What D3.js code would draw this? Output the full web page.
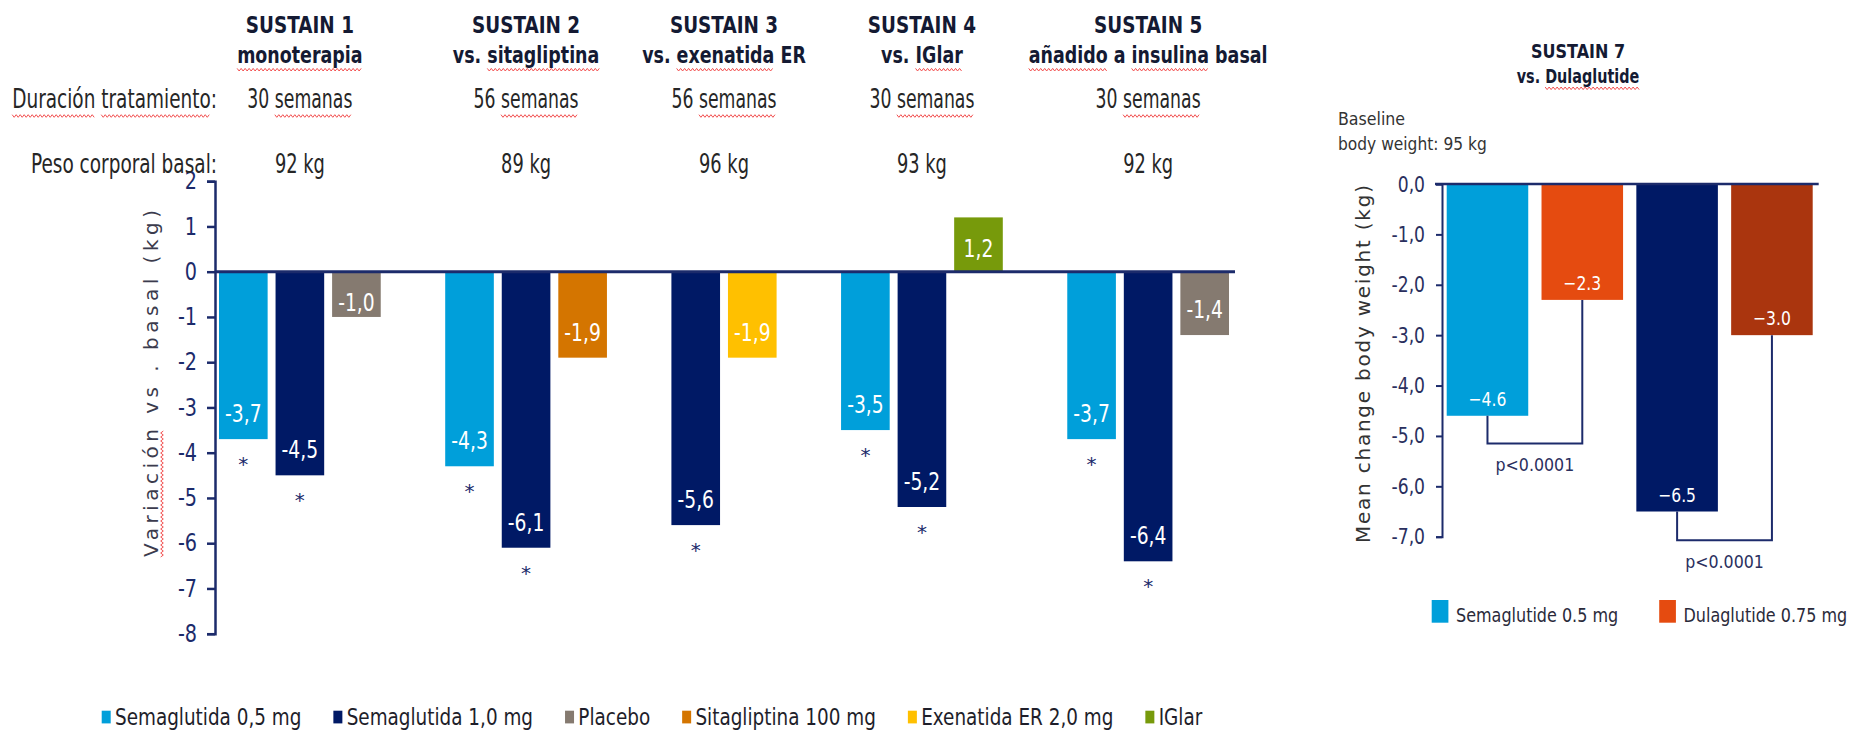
<!DOCTYPE html>
<meta charset="utf-8">
<style>
  body { margin: 0; background: #fff; }
  svg text { font-family: 'DejaVu Sans', Verdana, sans-serif; }
</style>
<script src="https://d3js.org/d3.v7.min.js"></script>
<div id="chart"></div>
<script>
// ---- SUSTAIN 1-5 data ----
var studies = ["SUSTAIN 1", "SUSTAIN 2", "SUSTAIN 3", "SUSTAIN 4", "SUSTAIN 5"];
var subtitles = ["monoterapia", "vs. sitagliptina", "vs. exenatida ER", "vs. IGlar", "añadido a insulina basal"];
var duration = ["30 semanas", "56 semanas", "56 semanas", "30 semanas", "30 semanas"];
var baseWeight = ["92 kg", "89 kg", "96 kg", "93 kg", "92 kg"];
var sema05 = [-3.7, -4.3, null, -3.5, -3.7];
var sema10 = [-4.5, -6.1, -5.6, -5.2, -6.4];
var comparator = [-1.0, -1.9, -1.9, 1.2, -1.4];
var comparatorName = ["Placebo", "Sitagliptina 100 mg", "Exenatida ER 2,0 mg", "IGlar", "Placebo"];
var treatments = ["Semaglutida 0,5 mg", "Semaglutida 1,0 mg", "Placebo", "Sitagliptina 100 mg", "Exenatida ER 2,0 mg", "IGlar"];
var treatmentColors = ["#009fda", "#001965", "#857a70", "#d47500", "#ffc000", "#779a0b"];
var leftTicks = [2, 1, 0, -1, -2, -3, -4, -5, -6, -7, -8];

// ---- SUSTAIN 7 data ----
var s7Arms = ["Semaglutide 0.5 mg", "Dulaglutide 0.75 mg", "Semaglutide 1.0 mg", "Dulaglutide 1.5 mg"];
var s7Values = [-4.6, -2.3, -6.5, -3.0];
var s7Colors = ["#009fda", "#e54b10", "#001965", "#aa350e"];
var s7Legend = ["Semaglutide 0.5 mg", "Dulaglutide 0.75 mg"];
var s7Pairs = [[0, 1], [2, 3]];
var s7PairLevel = [-5.15, -7.07];
var s7PValue = ["p<0.0001", "p<0.0001"];
var rightTicks = [0, -1, -2, -3, -4, -5, -6, -7];

var NAVY = "#1c2b6b", INK = "#141a33", GREY = "#262626";

var svg = d3.select("#chart").append("svg")
    .attr("width", 1849)
    .attr("height", 730);

// red spell-check squiggle
function wavy(parent, x0, x1, y) {
  var pts = [], k = 0;
  for (var x = x0; x <= x1; x += 2, k++) pts.push([x, y + (k % 2 ? 1.3 : -1.3)]);
  parent.append("path").attr("d", d3.line()(pts))
    .attr("fill", "none").attr("stroke", "#f25050").attr("stroke-width", 1);
}

// text squeezed horizontally (the source image is narrow)
function stext(parent, x, y, str, o) {
  o = o || {};
  var sx = o.sx || 1;
  var g = parent.append("g")
    .attr("transform", "translate(" + x + "," + y + ") scale(" + sx + ",1)");
  var t = g.append("text")
    .attr("text-anchor", o.anchor || "start")
    .style("font-size", (o.size || 20) + "px")
    .style("font-weight", o.weight || "normal")
    .attr("fill", o.fill || GREY)
    .text(str);
  (o.wavy || []).forEach(function (w) {
    var i = str.indexOf(w), n = t.node();
    var a = n.getStartPositionOfChar(i).x, b = n.getEndPositionOfChar(i + w.length - 1).x;
    wavy(parent, x + a * sx, x + b * sx, y + (o.wy || 6));
  });
  return t;
}

// ================= LEFT CHART =================
var slots = [];
studies.forEach(function (s, gi) {
  if (gi > 0) slots.push({ key: "gap" + gi, gap: true });
  if (sema05[gi] != null) slots.push({ key: s + "a", g: gi, v: sema05[gi], t: 0, star: true });
  slots.push({ key: s + "b", g: gi, v: sema10[gi], t: 1, star: true });
  slots.push({ key: s + "c", g: gi, v: comparator[gi], t: treatments.indexOf(comparatorName[gi]) });
});
var bars = slots.filter(function (d) { return !d.gap; });

var xL = d3.scaleBand().domain(slots.map(function (d) { return d.key; }))
  .range([219, 1229]).paddingInner(0.14);
var yL = d3.scaleLinear().domain([-8, 2]).range([633.7, 181.2]);
var bw = xL.bandwidth();

var axL = svg.append("g").attr("transform", "translate(215,0)")
  .call(d3.axisLeft(yL).tickValues(leftTicks).tickSize(8).tickFormat(function (d) { return String(d); }));
axL.select(".domain").attr("stroke", NAVY).attr("stroke-width", 2.5);
axL.selectAll(".tick line").attr("stroke", NAVY).attr("stroke-width", 2.5);
axL.selectAll(".tick text").attr("fill", NAVY).style("font-size", "24px")
  .attr("x", -18 / 0.8).attr("transform", "scale(0.8,1)");

// bars
svg.append("g").selectAll("rect").data(bars).enter().append("rect")
  .attr("x", function (d) { return xL(d.key); })
  .attr("y", function (d) { return yL(Math.max(0, d.v)); })
  .attr("width", bw)
  .attr("height", function (d) { return Math.abs(yL(d.v) - yL(0)); })
  .attr("fill", function (d) { return treatmentColors[d.t]; });

svg.append("line")
  .attr("x1", 215).attr("x2", xL.range()[1] + 6)
  .attr("y1", yL(0)).attr("y2", yL(0))
  .attr("stroke", NAVY).attr("stroke-width", 3);

var labL = svg.append("g");
bars.forEach(function (d) {
  var cx = xL(d.key) + bw / 2;
  var y = d.v < 0 ? Math.max(yL(d.v) - 17, yL(0) + 39) : yL(0) - 15;
  stext(labL, cx, y, d.v.toFixed(1).replace(".", ","), { anchor: "middle", size: 24, sx: 0.78, fill: "#fff" });
  if (d.star) stext(labL, cx, yL(d.v) + 32, "*", { anchor: "middle", size: 20, fill: NAVY });
});

// headers
var head = svg.append("g");
studies.forEach(function (s, gi) {
  var gb = bars.filter(function (d) { return d.g === gi; });
  var cx = (xL(gb[0].key) + xL(gb[gb.length - 1].key) + bw) / 2;
  stext(head, cx, 33, s, { anchor: "middle", size: 23, weight: "bold", sx: 0.8, fill: INK });
  var sq = subtitles[gi].split(" ").filter(function (w) { return ["vs.", "a", "ER", "basal"].indexOf(w) < 0; });
  stext(head, cx, 62.7, subtitles[gi], { anchor: "middle", size: 23, weight: "bold", sx: 0.76, fill: INK, wavy: sq, wy: 7 });
  stext(head, cx, 108, duration[gi], { anchor: "middle", size: 27, sx: 0.64, wavy: ["semanas"], wy: 8 });
  stext(head, cx, 173, baseWeight[gi], { anchor: "middle", size: 27, sx: 0.66 });
});
stext(head, 217, 108, "Duración tratamiento:", { anchor: "end", size: 27, sx: 0.685, wavy: ["Duración", "tratamiento"], wy: 8 });
stext(head, 217, 173, "Peso corporal basal:", { anchor: "end", size: 27, sx: 0.685 });

// rotated y label
var yLab = svg.append("g").attr("transform", "translate(151,383.5) rotate(-90)");
var yt = yLab.append("text").attr("text-anchor", "middle").attr("dy", "0.35em")
  .style("font-size", "20px").attr("fill", "#3b3b4d")
  .attr("textLength", 347).attr("lengthAdjust", "spacing")
  .text("Variación vs . basal (kg)");
(function () {
  var n = yt.node();
  wavy(yLab, n.getStartPositionOfChar(0).x, n.getEndPositionOfChar(8).x, 11);
})();

// bottom legend
var legL = svg.append("g");
var lx = 101.7;
treatments.forEach(function (name, i) {
  legL.append("rect").attr("x", lx).attr("y", 710.7).attr("width", 9).attr("height", 12.7)
    .attr("fill", treatmentColors[i]);
  var t = stext(legL, lx + 13.3, 725, name, { size: 23, sx: 0.8, fill: "#1e1e2a" });
  lx += 13.3 + t.node().getComputedTextLength() * 0.8 + 32;
});

// ================= RIGHT CHART (SUSTAIN 7) =================
var xR = d3.scaleBand().domain(s7Arms).range([1446.7, 1812.7]).paddingInner(0.14);
var yR = d3.scaleLinear().domain([-7, 0]).range([536.7, 184]);
var bwR = xR.bandwidth();

var axR = svg.append("g").attr("transform", "translate(1442,0)")
  .call(d3.axisLeft(yR).tickValues(rightTicks).tickSize(6)
    .tickFormat(function (d) { return (d < 0 ? "-" : "") + Math.abs(d).toFixed(1).replace(".", ","); }));
axR.select(".domain").attr("stroke", NAVY).attr("stroke-width", 2);
axR.selectAll(".tick line").attr("stroke", NAVY).attr("stroke-width", 2);
axR.selectAll(".tick text").attr("fill", "#2a2f5e").style("font-size", "22px")
  .attr("x", -17 / 0.78).attr("transform", "scale(0.78,1)");

svg.append("g").selectAll("rect").data(s7Arms).enter().append("rect")
  .attr("x", function (d) { return xR(d); })
  .attr("y", yR(0))
  .attr("width", bwR)
  .attr("height", function (d, i) { return yR(s7Values[i]) - yR(0); })
  .attr("fill", function (d, i) { return s7Colors[i]; });

svg.append("line")
  .attr("x1", 1435).attr("x2", xR.range()[1] + 6)
  .attr("y1", yR(0)).attr("y2", yR(0))
  .attr("stroke", NAVY).attr("stroke-width", 2.5);

var labR = svg.append("g");
s7Arms.forEach(function (a, i) {
  stext(labR, xR(a) + bwR / 2, yR(s7Values[i]) - 10, "\u2212" + Math.abs(s7Values[i]).toFixed(1),
    { anchor: "middle", size: 20, sx: 0.78, fill: "#fff" });
});

// significance brackets
s7Pairs.forEach(function (p, k) {
  var x0 = xR(s7Arms[p[0]]) + bwR / 2, x1 = xR(s7Arms[p[1]]) + bwR / 2;
  var yb = yR(s7PairLevel[k]);
  labR.append("path")
    .attr("d", "M" + x0 + "," + yR(s7Values[p[0]]) + "V" + yb + "H" + x1 + "V" + yR(s7Values[p[1]]))
    .attr("fill", "none").attr("stroke", NAVY).attr("stroke-width", 2);
  stext(labR, (x0 + x1) / 2, yb + 28, s7PValue[k], { anchor: "middle", size: 18, sx: 0.88, fill: "#2a2f5e" });
});

stext(labR, 1578, 58.3, "SUSTAIN 7", { anchor: "middle", size: 20, weight: "bold", sx: 0.8, fill: INK });
stext(labR, 1578, 83.3, "vs. Dulaglutide", { anchor: "middle", size: 20, weight: "bold", sx: 0.72, fill: INK, wavy: ["Dulaglutide"], wy: 5 });
stext(labR, 1338, 125, "Baseline", { size: 18, sx: 0.88, fill: "#333" });
stext(labR, 1338, 150, "body weight: 95 kg", { size: 18, sx: 0.86, fill: "#333" });

var yLabR = svg.append("g").attr("transform", "translate(1363,364) rotate(-90)");
yLabR.append("text").attr("text-anchor", "middle").attr("dy", "0.35em")
  .style("font-size", "20px").attr("fill", "#333")
  .attr("textLength", 358).attr("lengthAdjust", "spacing")
  .text("Mean change body weight (kg)");

var rx = 1431.7;
s7Legend.forEach(function (name) {
  var i = s7Arms.indexOf(name);
  labR.append("rect").attr("x", rx).attr("y", 600).attr("width", 16.7).attr("height", 22.7)
    .attr("fill", s7Colors[i]);
  var t = stext(labR, rx + 24.3, 621.7, name, { size: 20, sx: 0.8, fill: "#2a2a3a" });
  rx += 24.3 + t.node().getComputedTextLength() * 0.8 + 41;
});
</script>
